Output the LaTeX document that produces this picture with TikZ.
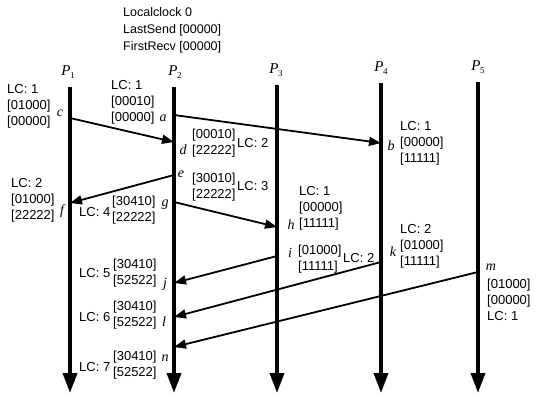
\documentclass[tikz,border=0pt]{standalone}
\usepackage{fontspec}
\setmainfont{Liberation Sans}
\newfontfamily\tms{Liberation Serif}
\usetikzlibrary{arrows.meta}
\newcommand{\plabel}[1]{\itshape P\kern-0.5pt\raisebox{-3pt}{\fontsize{9}{9}\selectfont\upshape #1}}
\begin{document}
\begin{tikzpicture}[x=1pt,y=-1pt,
  txt/.style={font=\fontsize{13}{16}\selectfont, inner sep=0pt, anchor=west, align=left},
  hdrtxt/.style={font=\fontsize{12.5}{17}\selectfont, inner sep=0pt, anchor=west, align=left},
  ev/.style={font=\tms\itshape\fontsize{14}{14}\selectfont, inner sep=0pt},
  plab/.style={font=\tms\fontsize{15}{15}\selectfont, inner sep=0pt},
  proc/.style={line width=3.6pt, -{Triangle[length=20pt,width=14pt]}},
  msg/.style={line width=1.8pt, -{Triangle[length=12pt,width=9pt]}}]
\useasboundingbox (0,0) rectangle (539,394);

% header
\node[hdrtxt] (hdr) at (123,30) {Localclock 0\\LastSend [00000]\\FirstRecv [00000]};

% process labels
\node[plab] (P1) at (68,72) {\plabel{1}};
\node[plab] (P2) at (175,72) {\plabel{2}};
\node[plab] (P3) at (276,70) {\plabel{3}};
\node[plab] (P4) at (381,68) {\plabel{4}};
\node[plab] (P5) at (478,67) {\plabel{5}};

% process lines
\coordinate (p1t) at (70,87);  \coordinate (p1b) at (70,393);
\coordinate (p2t) at (174,87); \coordinate (p2b) at (174,393);
\coordinate (p3t) at (277,85); \coordinate (p3b) at (277,393);
\coordinate (p4t) at (381,83); \coordinate (p4b) at (381,393);
\coordinate (p5t) at (478,82); \coordinate (p5b) at (478,393);
\draw[proc] (p1t) -- (p1b);
\draw[proc] (p2t) -- (p2b);
\draw[proc] (p3t) -- (p3b);
\draw[proc] (p4t) -- (p4b);
\draw[proc] (p5t) -- (p5b);

% events
\coordinate (c) at (70,118);
\coordinate (d) at (174,142);
\coordinate (a) at (174,115);
\coordinate (b) at (381,143);
\coordinate (e) at (174,175);
\coordinate (f) at (70,203);
\coordinate (g) at (174,202);
\coordinate (h) at (277,227);
\coordinate (i) at (277,256);
\coordinate (j) at (174,283);
\coordinate (k) at (381,262);
\coordinate (l) at (174,317);
\coordinate (m) at (478,272);
\coordinate (n) at (174,347);

% messages
\draw[msg] (c) -- (d);
\draw[msg] (a) -- (b);
\draw[msg] (e) -- (f);
\draw[msg] (g) -- (h);
\draw[msg] (i) -- (j);
\draw[msg] (k) -- (l);
\draw[msg] (m) -- (n);

% event letters
\node[ev] (lc) at (60,113) {c};
\node[ev] (la) at (163,118) {a};
\node[ev] (ld) at (183,150) {d};
\node[ev] (lb) at (391,146) {b};
\node[ev] (le) at (181,174) {e};
\node[ev] (lf) at (62,211) {f};
\node[ev] (lg) at (165,205) {g};
\node[ev] (lh) at (291,225) {h};
\node[ev] (li) at (290,253) {i};
\node[ev] (lk) at (393,252) {k};
\node[ev] (lj) at (165,284) {j};
\node[ev] (ll) at (164,322) {l};
\node[ev] (lm) at (491,267) {m};
\node[ev] (ln) at (165,358) {n};

% clock / vector labels
\node[txt] (tc) at (7,106) {LC: 1\\{}[01000]\\{}[00000]};
\node[txt] (ta) at (111,102) {LC: 1\\{}[00010]\\{}[00000]};
\node[txt] (td) at (192,143) {[00010]\\{}[22222]};
\node[txt] (tdl) at (237,143) {LC: 2};
\node[txt] (tb) at (400,143) {LC: 1\\{}[00000]\\{}[11111]};
\node[txt] (te) at (192,187) {[30010]\\{}[22222]};
\node[txt] (tel) at (237,186) {LC: 3};
\node[txt] (tf) at (11,200) {LC: 2\\{}[01000]\\{}[22222]};
\node[txt] (tg) at (112,210) {[30410]\\{}[22222]};
\node[txt] (tgl) at (79,212) {LC: 4};
\node[txt] (th) at (299,208) {LC: 1\\{}[00000]\\{}[11111]};
\node[txt] (ti) at (298,259) {[01000]\\{}[11111]};
\node[txt] (til) at (343,258) {LC: 2};
\node[txt] (tk) at (400,246) {LC: 2\\{}[01000]\\{}[11111]};
\node[txt] (tj) at (113,273) {[30410]\\{}[52522]};
\node[txt] (tjl) at (79,273) {LC: 5};
\node[txt] (tl) at (113,315) {[30410]\\{}[52522]};
\node[txt] (tll) at (79,317) {LC: 6};
\node[txt] (tn) at (113,365) {[30410]\\{}[52522]};
\node[txt] (tnl) at (79,367) {LC: 7};
\node[txt] (tm) at (487,300) {[01000]\\{}[00000]\\LC: 1};
\end{tikzpicture}
\end{document}
